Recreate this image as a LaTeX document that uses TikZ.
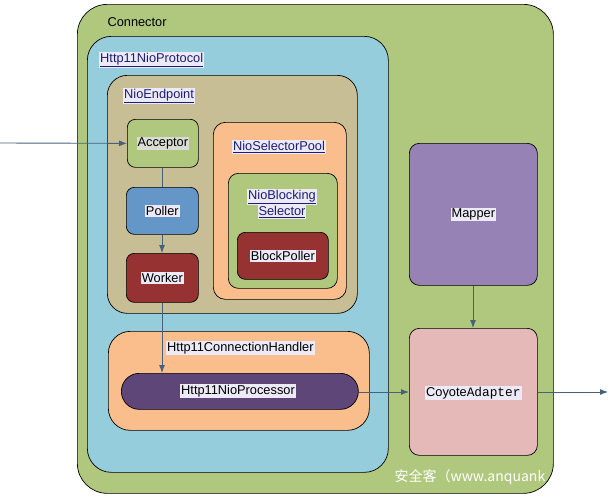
\documentclass[tikz,border=0pt]{standalone}
\usepackage{fontspec}
\setmainfont{Liberation Sans}
\setmonofont{Liberation Mono}
\newfontfamily\cjk{Noto Sans CJK SC}
\usetikzlibrary{arrows.meta}
\definecolor{cgreen}{HTML}{AFC87D}
\definecolor{cblue}{HTML}{96CDDC}
\definecolor{ctan}{HTML}{C8BE96}
\definecolor{cpoller}{HTML}{6496C8}
\definecolor{cred}{HTML}{963232}
\definecolor{corange}{HTML}{FABE8C}
\definecolor{cpurple}{HTML}{5F4678}
\definecolor{cmapper}{HTML}{9682B4}
\definecolor{cpink}{HTML}{E6B9B9}
\definecolor{carrow}{HTML}{46627A}
\definecolor{clink}{HTML}{1C1C78}
\definecolor{chl}{HTML}{ECEAF6}
\definecolor{chlg}{HTML}{DCDCD6}
\begin{document}
\begin{tikzpicture}[x=1pt,y=-1pt,
  font=\fontsize{12.8}{15}\selectfont,
  box/.style={draw=black, line width=0.7pt, anchor=north west, inner sep=0pt},
  hl/.style={fill=chl, inner sep=1pt, text=black},
  lnk/.style={fill=chl, inner sep=1pt, text=clink, align=center},
  flow/.style={draw=carrow, line width=0.9pt, -{Latex[length=8pt,width=6pt]}},
  plain/.style={draw=carrow, line width=0.9pt}]
\useasboundingbox (0,0) rectangle (610,496);
% containers
\node[box, fill=cgreen, rounded corners=30pt, minimum width=476pt, minimum height=489pt] (conn) at (77,4) {};
\node[anchor=west] (connl) at (104,22) {Connector};
\node[box, fill=cblue, rounded corners=24pt, minimum width=301pt, minimum height=436pt] (proto) at (87,36) {};
\node[lnk, anchor=west] (protol) at (99,60) {\underline{Http11NioProtocol}};
\node[box, fill=ctan, rounded corners=20pt, minimum width=250pt, minimum height=238pt] (endp) at (107,75) {};
\node[lnk, anchor=west] (endpl) at (123,96) {\underline{NioEndpoint}};
% left column
\node[box, fill=cgreen, rounded corners=8pt, minimum width=71pt, minimum height=48pt] (acc) at (127,119) {};
\node[fill=chlg, inner sep=1pt] (accl) at (acc.center) {Acceptor};
\node[box, fill=cpoller, rounded corners=8pt, minimum width=72pt, minimum height=47pt] (pol) at (126,187) {};
\node[hl] (poll) at (pol.center) {Poller};
\node[box, fill=cred, rounded corners=8pt, minimum width=72pt, minimum height=49pt] (work) at (126,253) {};
\node[hl] (workl) at (work.center) {Worker};
% selector pool
\node[box, fill=corange, rounded corners=12pt, minimum width=133pt, minimum height=177pt] (pool) at (213,122) {};
\node[lnk] (pooll) at (279,147) {\underline{NioSelectorPool}};
\node[box, fill=cgreen, rounded corners=10pt, minimum width=109pt, minimum height=115pt] (nbs) at (228,173) {};
\node[lnk] (nbsl1) at (282,197) {\underline{NioBlocking}};
\node[lnk] (nbsl2) at (282,212) {\underline{Selector}};
\node[box, fill=cred, rounded corners=8pt, minimum width=91pt, minimum height=47pt] (bp) at (237,232) {};
\node[hl] (bpl) at (bp.center) {BlockPoller};
% handler
\node[box, fill=corange, rounded corners=22pt, minimum width=261pt, minimum height=99pt] (hand) at (108,331) {};
\node[hl, anchor=west] (handl) at (166,348) {Http11ConnectionHandler};
\node[box, fill=cpurple, rounded corners=18pt, minimum width=237pt, minimum height=36pt] (proc) at (121,373) {};
\node[hl] (procl) at (238,391) {Http11NioProcessor};
% right column
\node[box, fill=cmapper, rounded corners=10pt, minimum width=128pt, minimum height=142pt] (map) at (409,143) {};
\node[hl] (mapl) at (map.center) {Mapper};
\node[box, fill=cpink, rounded corners=10pt, minimum width=128pt, minimum height=127pt] (coy) at (409,328) {};
\node[hl] (coyl) at ([yshift=-1pt]coy.center) {Coyote{\ttfamily Adapter}};
% watermark
\node[anchor=west, text=white, font=\cjk\fontsize{14}{16}\selectfont] (wm) at (391,477) {安全客（www.anquank};
% connectors
\coordinate (in) at (0,143);
\coordinate (out) at (608,392);
\draw[flow] (in) -- (acc.west);
\draw[plain] (acc.south -| 162,0) -- (pol.north -| 162,0);
\draw[flow] (pol.south -| 162,0) -- (work.north -| 162,0);
\draw[flow] (work.south -| 162,0) -- (proc.north -| 162,0);
\draw[flow] (proc.east |- 0,392) -- (coy.west |- 0,392);
\draw[flow] (map.south -| 473,0) -- (coy.north -| 473,0);
\draw[flow] (coy.east |- 0,392) -- (out);
\end{tikzpicture}
\end{document}
